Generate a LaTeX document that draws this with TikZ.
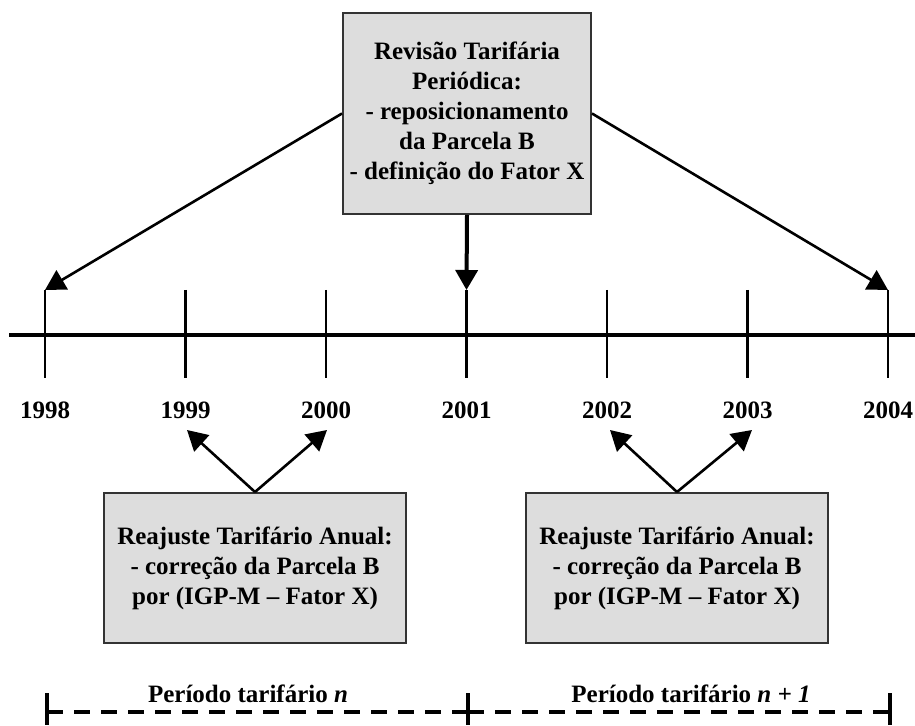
\documentclass[tikz,border=0pt]{standalone}
\usepackage{fontspec}
\setmainfont{Liberation Serif}
\usetikzlibrary{arrows.meta}
\definecolor{boxgray}{HTML}{DDDDDD}
\definecolor{boxedge}{HTML}{333333}
\begin{document}
\begin{tikzpicture}[x=0.5pt,y=-0.5pt,
  font=\fontsize{12.5}{15}\selectfont\bfseries,
  box/.style={draw=boxedge, line width=1pt, fill=boxgray, align=center, inner sep=0pt},
  tickline/.style={line width=1.3pt},
  arr/.style={line width=1.3pt, -{Triangle[length=10pt,width=11pt]}},
  bigarr/.style={line width=2pt, -{Triangle[length=10pt,width=11pt]}},
  yearlbl/.style={inner sep=0pt, anchor=center},
  period/.style={line width=2pt, dash pattern=on 8pt off 5.5pt},
  periodtick/.style={line width=1.6pt},
]
\useasboundingbox (0,0) rectangle (915,726);

% timeline
\coordinate (tl0) at (9,335);
\coordinate (tl1) at (915,335);
\draw[line width=1.6pt] (tl0) -- (tl1);

% ticks
\foreach \i/\x in {0/45,1/185.5,2/326,3/466.5,4/607,5/747.5,6/888}{
  \coordinate (kt\i) at (\x,290);
  \coordinate (kb\i) at (\x,378);
  \draw[tickline] (kt\i) -- (kb\i);
}

% year labels
\node[yearlbl] (y1998) at (45,410) {1998};
\node[yearlbl] (y1999) at (185.5,410) {1999};
\node[yearlbl] (y2000) at (326,410) {2000};
\node[yearlbl] (y2001) at (466.5,410) {2001};
\node[yearlbl] (y2002) at (607,410) {2002};
\node[yearlbl] (y2003) at (747.5,410) {2003};
\node[yearlbl] (y2004) at (888,410) {2004};

% top box
\node[box, minimum width=124pt, minimum height=100.5pt] (rtp) at (467,113.5)
  {Revisão Tarifária\\Periódica:\\- reposicionamento\\da Parcela B\\- definição do Fator X};

\draw[arr] (rtp.west) -- (kt0);
\draw[arr] (rtp.east) -- (kt6);
\draw[bigarr] (rtp.south) -- (kt3);

% bottom boxes
\node[box, minimum width=151pt, minimum height=75pt] (rta1) at (255,568)
  {Reajuste Tarifário Anual:\\- correção da Parcela B\\por (IGP-M – Fator X)};
\node[box, minimum width=151pt, minimum height=75pt] (rta2) at (677,568)
  {Reajuste Tarifário Anual:\\- correção da Parcela B\\por (IGP-M – Fator X)};

\coordinate (a1) at (187,430);
\coordinate (a2) at (327,430);
\coordinate (a3) at (610,430);
\coordinate (a4) at (752,430);
\draw[arr] (rta1.north) -- (a1);
\draw[arr] (rta1.north) -- (a2);
\draw[arr] (rta2.north) -- (a3);
\draw[arr] (rta2.north) -- (a4);

% periods
\coordinate (p0) at (47,712);
\coordinate (p1) at (468,712);
\coordinate (p2) at (890,712);
\draw[period] (p0) -- (p1);
\draw[period] (p1) -- (p2);
\foreach \x in {47,468,890}{
  \draw[periodtick] (\x,693) -- (\x,725);
}
\node[anchor=base, inner sep=0pt] (pn) at (248,702) {Período tarifário \textit{n}};
\node[anchor=base, inner sep=0pt] (pn1) at (691,702) {Período tarifário \textit{n + 1}};
\end{tikzpicture}
\end{document}
